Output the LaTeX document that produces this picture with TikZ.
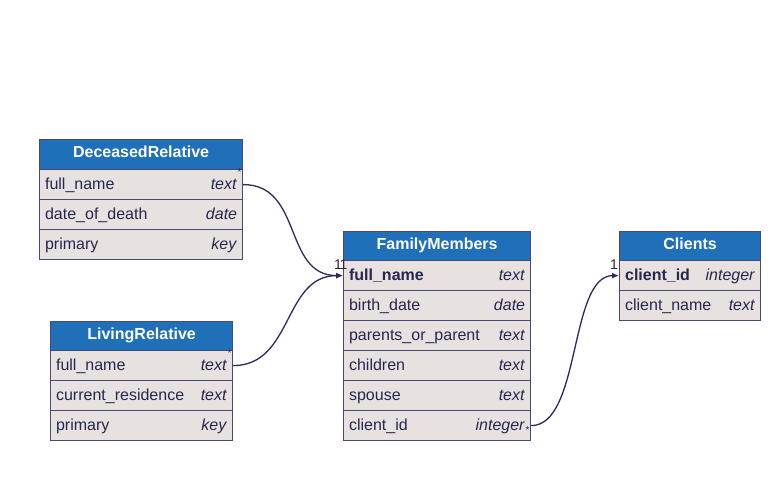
\documentclass[tikz,border=0pt]{standalone}
\usepackage{fontspec}
\setmainfont{Liberation Sans}
\usetikzlibrary{arrows.meta}
\definecolor{hdr}{HTML}{1F70B8}
\definecolor{bodyc}{HTML}{E7E2DF}
\definecolor{edgec}{HTML}{4B4778}
\definecolor{txt}{HTML}{262650}
\definecolor{wire}{HTML}{2D2A5E}
\definecolor{card}{HTML}{3A1E2E}
\tikzset{
  hdrbox/.style={draw=edgec, fill=hdr, line width=1.2pt, minimum height=30pt, inner sep=0pt,
    text height=12pt, text depth=6pt,
    anchor=north west, text=white, font=\fontsize{16}{18}\selectfont\bfseries},
  rowbox/.style={draw=edgec, fill=bodyc, line width=1.2pt, minimum height=30pt, inner xsep=5.5pt,
    inner ysep=0pt, text height=12pt, text depth=2pt,
    anchor=north west, align=left, text=txt, font=\fontsize{16}{18}\selectfont},
  wirec/.style={draw=wire, line width=1.3pt, -{Latex[length=7pt,width=6pt]}},
  cardlbl/.style={text=card, font=\fontsize{14}{14}\selectfont, inner sep=0pt},
  starlbl/.style={text=txt, font=\fontsize{10}{10}\selectfont, inner sep=0pt}
}
\newcommand{\dbrow}[6]{\node[rowbox, text width=#4] (#1) at (#2,#3) {#5\hfill\textit{#6}};}
\begin{document}
\begin{tikzpicture}[x=1pt,y=-1pt]
\useasboundingbox[fill=white] (0,0) rectangle (782,502);

% DeceasedRelative
\node[hdrbox, minimum width=203pt] (drh) at (39,139) {DeceasedRelative};
\dbrow{dr1}{39}{169}{192pt}{full\_name}{text}
\dbrow{dr2}{39}{199}{192pt}{date\_of\_death}{date}
\dbrow{dr3}{39}{229}{192pt}{primary}{key}

% LivingRelative
\node[hdrbox, minimum width=182pt] (lrh) at (50,321) {LivingRelative};
\dbrow{lr1}{50}{350}{171pt}{full\_name}{text}
\dbrow{lr2}{50}{380}{171pt}{current\_residence}{text}
\dbrow{lr3}{50}{410}{171pt}{primary}{key}

% FamilyMembers
\node[hdrbox, minimum width=187pt] (fmh) at (343,231) {FamilyMembers};
\dbrow{fm1}{343}{260}{176pt}{\textbf{full\_name}}{text}
\dbrow{fm2}{343}{290}{176pt}{birth\_date}{date}
\dbrow{fm3}{343}{320}{176pt}{parents\_or\_parent}{text}
\dbrow{fm4}{343}{350}{176pt}{children}{text}
\dbrow{fm5}{343}{380}{176pt}{spouse}{text}
\dbrow{fm6}{343}{410}{176pt}{client\_id}{integer}

% Clients
\node[hdrbox, minimum width=141pt] (clh) at (619,231) {Clients};
\dbrow{cl1}{619}{260}{130pt}{\textbf{client\_id}}{integer}
\dbrow{cl2}{619}{290}{130pt}{client\_name}{text}

% connectors
\draw[wirec] (dr1.east) .. controls +(60,0) and +(-60,0) .. (fm1.west);
\draw[wirec] (lr1.east) .. controls +(60,0) and +(-60,0) .. (fm1.west);
\draw[wirec] (fm6.east) .. controls +(50,0) and +(-50,0) .. (cl1.west);

% cardinality labels
\node[starlbl] (s1) at (239.5,172.5) {*};
\node[starlbl] (s2) at (229.5,353.5) {*};
\node[starlbl] (s3) at (527.5,430.5) {*};
\node[cardlbl] (c1) at (338,265) {1};
\node[cardlbl] (c2) at (343.5,265) {1};
\node[cardlbl] (c3) at (614,265) {1};
\end{tikzpicture}
\end{document}
